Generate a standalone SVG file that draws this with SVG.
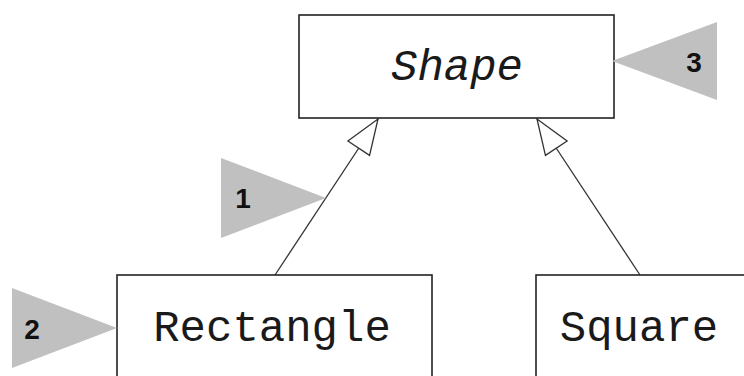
<svg xmlns="http://www.w3.org/2000/svg" width="744" height="376" viewBox="0 0 744 376">
  <style>
    .box { fill: #ffffff; stroke: #222222; stroke-width: 1.6; }
    .name { font-family: "Liberation Mono", "DejaVu Sans Mono", monospace; font-size: 44px; fill: #1a1a1a; text-anchor: middle; }
    .italic { font-style: italic; }
    .callout { fill: #c0c0c0; stroke: none; }
    .num { font-family: "Liberation Sans", Arial, sans-serif; font-size: 28px; font-weight: bold; fill: #111111; text-anchor: middle; }
    .edge { fill: none; stroke: #333333; stroke-width: 1.3; }
  </style>
  <defs>
    <marker id="inherit" markerUnits="userSpaceOnUse" viewBox="-2 -15 39 30" refX="35" refY="0" markerWidth="39" markerHeight="30" orient="auto">
      <path d="M0,-13 L35,0 L0,13 Z" fill="#ffffff" stroke="#333333" stroke-width="1.3"/>
    </marker>
  </defs>

  <g id="connectors">
    <line class="edge" x1="275" y1="275" x2="378" y2="119" marker-end="url(#inherit)"/>
    <line class="edge" x1="640" y1="275" x2="537" y2="119" marker-end="url(#inherit)"/>
  </g>

  <g id="shape">
    <rect class="box" x="299" y="15" width="315" height="103"/>
    <text class="name italic" x="457" y="80">Shape</text>
  </g>

  <g id="rectangle">
    <rect class="box" x="117" y="275" width="315" height="120"/>
    <text class="name" x="272" y="341">Rectangle</text>
  </g>

  <g id="square">
    <rect class="box" x="536" y="275" width="240" height="120"/>
    <text class="name" x="639" y="341">Square</text>
  </g>

  <g id="callout1">
    <polygon class="callout" points="221,158 221,238 326,198"/>
    <text class="num" x="243" y="208">1</text>
  </g>

  <g id="callout2">
    <polygon class="callout" points="12,288 12,368 117,328"/>
    <text class="num" x="32" y="339">2</text>
  </g>

  <g id="callout3">
    <polygon class="callout" points="717,22 717,100 612,61"/>
    <text class="num" x="694" y="72">3</text>
  </g>
</svg>
